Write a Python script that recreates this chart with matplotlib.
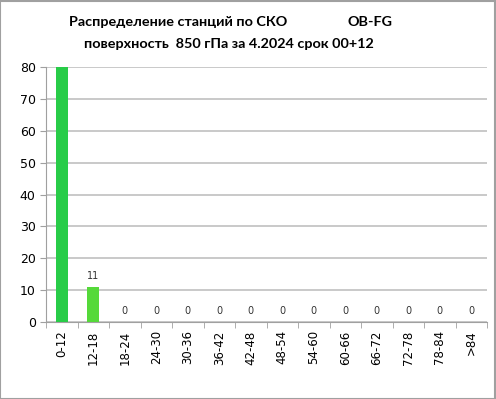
import matplotlib
matplotlib.use("Agg")
import matplotlib.pyplot as plt
import numpy as np

categories = ["0-12", "12-18", "18-24", "24-30", "30-36", "36-42", "42-48",
              "48-54", "54-60", "60-66", "66-72", "72-78", "78-84", ">84"]
counts = [85, 11, 0, 0, 0, 0, 0, 0, 0, 0, 0, 0, 0, 0]
bar_colors = ["#28cc48", "#55d93a"] + ["#55d93a"] * 12

fig = plt.figure(figsize=(4.96, 3.99), dpi=100)
ax = fig.add_axes([0.093, 0.193, 0.889, 0.639])

x = np.arange(len(categories))
ax.bar(x, counts, width=0.38, color=bar_colors, zorder=3)
ax.set_ylim(0, 80)
ax.set_xlim(-0.5, len(categories) - 0.5)
ax.set_yticks(range(0, 81, 10))
ax.yaxis.grid(True, color="#c0c0c0", linewidth=1.2, zorder=0)

# value labels (the first bar is off the scale)
for xi, v in zip(x, counts):
    if v <= 80:
        ax.text(xi, v + 2, str(v), ha="center", va="bottom", fontsize=7, color="#333333")

ax.set_xticks(x)
ax.set_xticklabels(categories, rotation=90, fontsize=8.5)
ax.set_xticks(np.arange(-0.5, len(categories)), minor=True)
ax.tick_params(axis="x", which="major", length=0, pad=6)
ax.tick_params(axis="x", which="minor", length=4, color="#a0a0a0")
ax.tick_params(axis="y", length=4, color="#a0a0a0", labelsize=9)

for s in ["top", "right"]:
    ax.spines[s].set_visible(False)
for s in ["left", "bottom"]:
    ax.spines[s].set_color("#a0a0a0")

fig.text(0.139, 0.945, "Распределение станций по СКО", fontsize=10.4, fontweight="bold",
         family="Lato", va="center")
fig.text(0.70, 0.945, "OB-FG", fontsize=10.4, fontweight="bold", family="Lato", va="center")
fig.text(0.461, 0.89, "поверхность  850 гПа за 4.2024 срок 00+12", fontsize=10.4,
         fontweight="bold", family="Lato", ha="center", va="center")

fig.patches.append(plt.Rectangle((0.001, 0.001), 0.997, 0.997, transform=fig.transFigure,
                                 fill=False, edgecolor="#a0a0a0", linewidth=1.5))

fig.savefig("out.png", dpi=100)
